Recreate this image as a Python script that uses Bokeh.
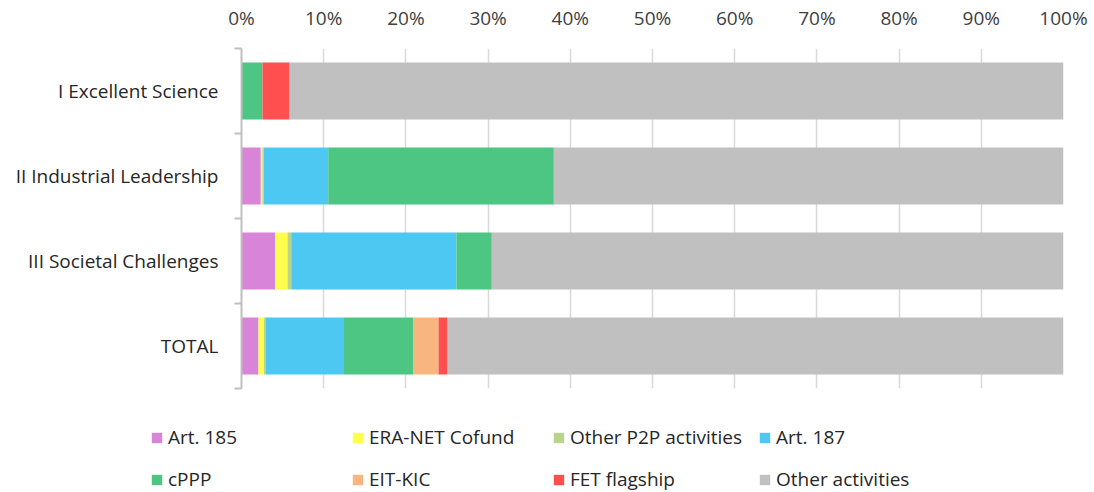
from bokeh.plotting import figure
from bokeh.models import (Range1d, FixedTicker, PrintfTickFormatter, Legend,
                          LegendItem, ColumnDataSource)
from bokeh.embed import file_html
from bokeh.resources import INLINE

# ---------------- data ----------------
categories = ["I Excellent Science", "II Industrial Leadership",
              "III Societal Challenges", "TOTAL"]
series_names = ["Art. 185", "ERA-NET Cofund", "Other P2P activities", "Art. 187",
                "cPPP", "EIT-KIC", "FET flagship", "Other activities"]
art185 = [0.0, 2.35, 4.1, 2.07]
era_net = [0.0, 0.2, 1.5, 0.65]
other_p2p = [0.0, 0.15, 0.45, 0.2]
art187 = [0.0, 7.85, 20.1, 9.45]
cppp = [2.55, 27.45, 4.3, 8.5]
eit_kic = [0.0, 0.0, 0.0, 3.1]
fet_flagship = [3.3, 0.0, 0.0, 1.1]
other_activities = [94.15, 62.0, 69.55, 74.93]
x_ticks = [0, 10, 20, 30, 40, 50, 60, 70, 80, 90, 100]

colors = ["#D884D8", "#FFFF4D", "#BBD48C", "#4DC8F2",
          "#4DC683", "#F8B57F", "#FF4F4F", "#C0C0C0"]

series_values = [art185, era_net, other_p2p, art187, cppp, eit_kic,
                 fet_flagship, other_activities]

n = len(categories)
ypos = [n - i - 0.5 for i in range(n)]
data = {"y": ypos}
keys = []
for i, vals in enumerate(series_values):
    k = "s%d" % i
    keys.append(k)
    data[k] = vals
source = ColumnDataSource(data)

FONT = "Open Sans"

p = figure(width=1094, height=400, output_backend="svg", toolbar_location=None,
           x_range=Range1d(0, 100), y_range=Range1d(0, n),
           x_axis_location="above",
           min_border_left=241, min_border_right=31,
           min_border_top=48, min_border_bottom=12)
p.outline_line_color = None
p.background_fill_color = "white"
p.border_fill_color = "white"

renderers = p.hbar_stack(keys, y="y", height=0.67, color=colors,
                         source=source, line_color=None)

# top x axis
p.xaxis.ticker = FixedTicker(ticks=x_ticks)
p.xaxis.formatter = PrintfTickFormatter(format="%d%%")
p.xaxis.axis_line_color = None
p.xaxis.major_tick_line_color = None
p.xaxis.minor_tick_line_color = None
p.xaxis.major_label_standoff = 12
p.xaxis.major_label_text_font = FONT
p.xaxis.major_label_text_font_size = "19px"
p.xaxis.major_label_text_color = "#404040"

p.xgrid.ticker = FixedTicker(ticks=x_ticks)
p.xgrid.grid_line_color = "#D9D9D9"
p.xgrid.grid_line_width = 1.5
p.ygrid.visible = False

# left axis: labels at category centres, tick marks at boundaries
p.yaxis.ticker = FixedTicker(ticks=ypos, minor_ticks=list(range(n + 1)))
p.yaxis.major_label_overrides = {y: c for y, c in zip(ypos, categories)}
p.yaxis.major_tick_out = 0
p.yaxis.major_tick_in = 0
p.yaxis.minor_tick_out = 7
p.yaxis.minor_tick_in = 0
p.yaxis.minor_tick_line_color = "#BFBFBF"
p.yaxis.minor_tick_line_width = 2
p.yaxis.axis_line_color = "#BFBFBF"
p.yaxis.axis_line_width = 2
p.yaxis.major_label_standoff = 16
p.yaxis.major_label_text_font = FONT
p.yaxis.major_label_text_font_size = "19px"
p.yaxis.major_label_text_color = "#262626"

# ---------------- legend (separate strip below the chart) ----------------
lg = figure(width=1094, height=92, output_backend="svg", toolbar_location=None,
            x_axis_type=None, y_axis_type=None,
            x_range=Range1d(0, 100), y_range=Range1d(100, 101),
            min_border_left=0, min_border_right=0,
            min_border_top=0, min_border_bottom=0)
lg.outline_line_color = None
lg.grid.visible = False
lg.background_fill_color = "white"
lg.border_fill_color = "white"

# same bars (out of view) only to supply legend glyphs
lg_renderers = lg.hbar_stack(keys, y="y", height=0.67, color=colors,
                             source=source, line_color=None)
legend_items = [LegendItem(label=nm, renderers=[r])
                for nm, r in zip(series_names, lg_renderers)]
ncols = 4
nrows = (len(legend_items) + ncols - 1) // ncols
# legend fills column by column -> reorder so rows read left to right
ordered = [legend_items[r * ncols + c] for c in range(ncols) for r in range(nrows)]

legend = Legend(items=ordered, ncols=ncols, location=(150, 0),
                glyph_width=13, glyph_height=13, label_standoff=5,
                label_width=167, label_height=26, spacing=16,
                padding=0, margin=0, border_line_color=None,
                background_fill_alpha=0,
                label_text_font=FONT, label_text_font_size="19px",
                label_text_color="#262626")
lg.add_layout(legend, "center")

open("out.html", "w").write(file_html([p, lg], INLINE))
